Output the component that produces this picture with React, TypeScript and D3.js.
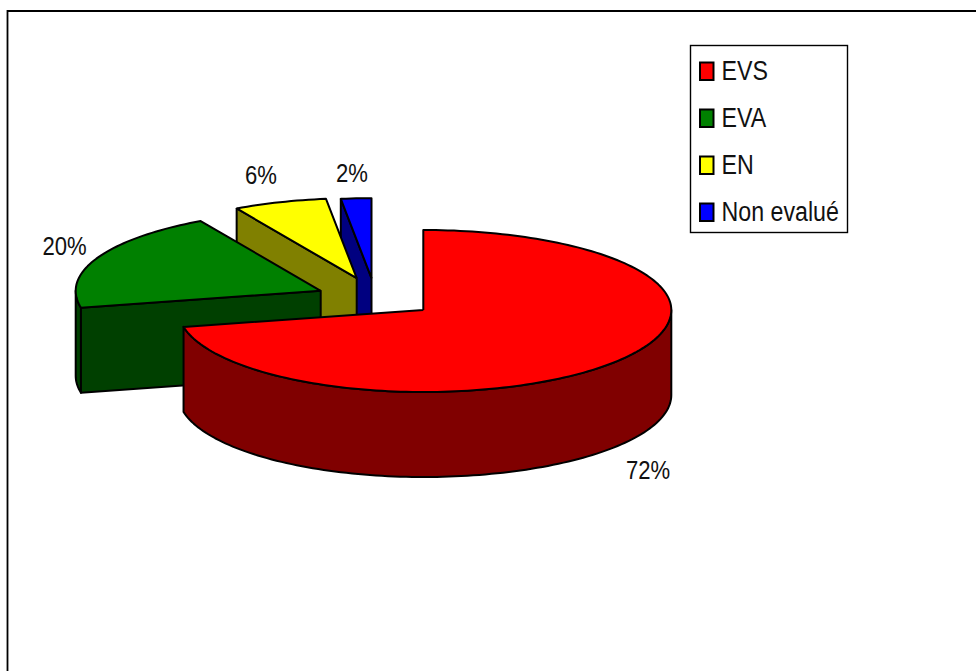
import React from "react";
import * as d3 from "d3";

const categories = ["EVS", "EVA", "EN", "Non evalué"];
const shares = [71.7, 20.15, 6.15, 2];
const topColors = ["#ff0000", "#008000", "#ffff00", "#0000ff"];
const wallColors = ["#800000", "#004000", "#808000", "#000080"];
// pie apex of each exploded slice
const apexX = [423.3, 320.7, 356.7, 371.5];
const apexY = [310, 290.8, 278.2, 278.2];
const labelX = [648, 64.5, 261, 352];
const labelY = [479, 255, 184, 182];

const RX_RIGHT = 248;
const RX_LEFT = 245;
const RY_BACK = 80;
const RY_FRONT = 82;
const DEPTH = 85;
const FONT = "'Liberation Sans', Arial, sans-serif";
const SQUEEZE = 0.85;

type P = [number, number];
const pie = d3.pie<number>().sort(null).value((d) => d);
const arcs = pie(shares);
const line = d3.line();
const pct = d3.format(".0f");

function pt(i: number, a: number, dz = 0): P {
  const s = Math.sin(a);
  const c = Math.cos(a);
  return [apexX[i] + s * (s < 0 ? RX_LEFT : RX_RIGHT), apexY[i] - c * (c > 0 ? RY_BACK : RY_FRONT) + dz];
}
function samples(a0: number, a1: number): number[] {
  const n = Math.max(2, Math.ceil((a1 - a0) * 40));
  return d3.range(n + 1).map((k) => a0 + ((a1 - a0) * k) / n);
}

function Slice({ i }: { i: number }) {
  const { startAngle: a0, endAngle: a1 } = arcs[i];
  const apex: P = [apexX[i], apexY[i]];
  const apexLow: P = [apexX[i], apexY[i] + DEPTH];
  const common = { stroke: "#000", strokeWidth: 2, strokeLinejoin: "round" as const };
  const top: P[] = [apex, ...samples(a0, a1).map((a) => pt(i, a)), apex];
  // The rim facing the viewer: angles from a quarter turn to three quarters.
  const w0 = Math.max(a0, Math.PI / 2);
  const w1 = Math.min(a1, (3 * Math.PI) / 2);
  const wallAngles = w1 > w0 ? samples(w0, w1) : [];
  const wall: P[] = [
    ...wallAngles.map((a) => pt(i, a)),
    ...wallAngles.map((a) => pt(i, a, DEPTH)).reverse(),
  ];
  // The cut face running from the rim at the start angle back to the apex.
  const face: P[] = [pt(i, a0), apex, apexLow, pt(i, a0, DEPTH), pt(i, a0)];
  return (
    <g>
      {wall.length > 0 && <path d={(line(wall) ?? "") + "Z"} fill={wallColors[i]} {...common} />}
      {i > 0 && <path d={line(face) ?? ""} fill={wallColors[i]} {...common} />}
      <path d={line(top) ?? ""} fill={topColors[i]} {...common} />
    </g>
  );
}

function Txt({ x, y, size, anchor, children }: { x: number; y: number; size: number; anchor?: string; children: React.ReactNode }) {
  return (
    <text
      transform={`translate(${x},${y}) scale(${SQUEEZE},1)`}
      fontFamily={FONT}
      fontSize={size}
      fill="#111"
      textAnchor={anchor ?? "start"}
    >
      {children}
    </text>
  );
}

export default function App() {
  const legendY = d3.scalePoint<string>().domain(categories).range([71, 212]);
  return (
    <svg width={976} height={671} style={{ position: "absolute", left: 0, top: 0, display: "block", background: "#fff" }}>
      <path d="M976,11 H7.5 V671" fill="none" stroke="#000" strokeWidth={1.8} />
      {[3, 2, 1, 0].map((i) => (
        <Slice key={i} i={i} />
      ))}
      {categories.map((_, i) => (
        <Txt key={i} x={labelX[i]} y={labelY[i]} size={26} anchor="middle">
          {pct(shares[i])}%
        </Txt>
      ))}
      <rect x={690.5} y={45.5} width={157} height={187} fill="#fff" stroke="#000" strokeWidth={1.4} />
      {categories.map((c, i) => {
        const y = legendY(c) ?? 0;
        return (
          <g key={c}>
            <rect x={700} y={y - 8.5} width={13.5} height={17.5} fill={topColors[i]} stroke="#000" strokeWidth={2} />
            <Txt x={721.5} y={y + 9} size={27.3}>
              {c}
            </Txt>
          </g>
        );
      })}
    </svg>
  );
}
